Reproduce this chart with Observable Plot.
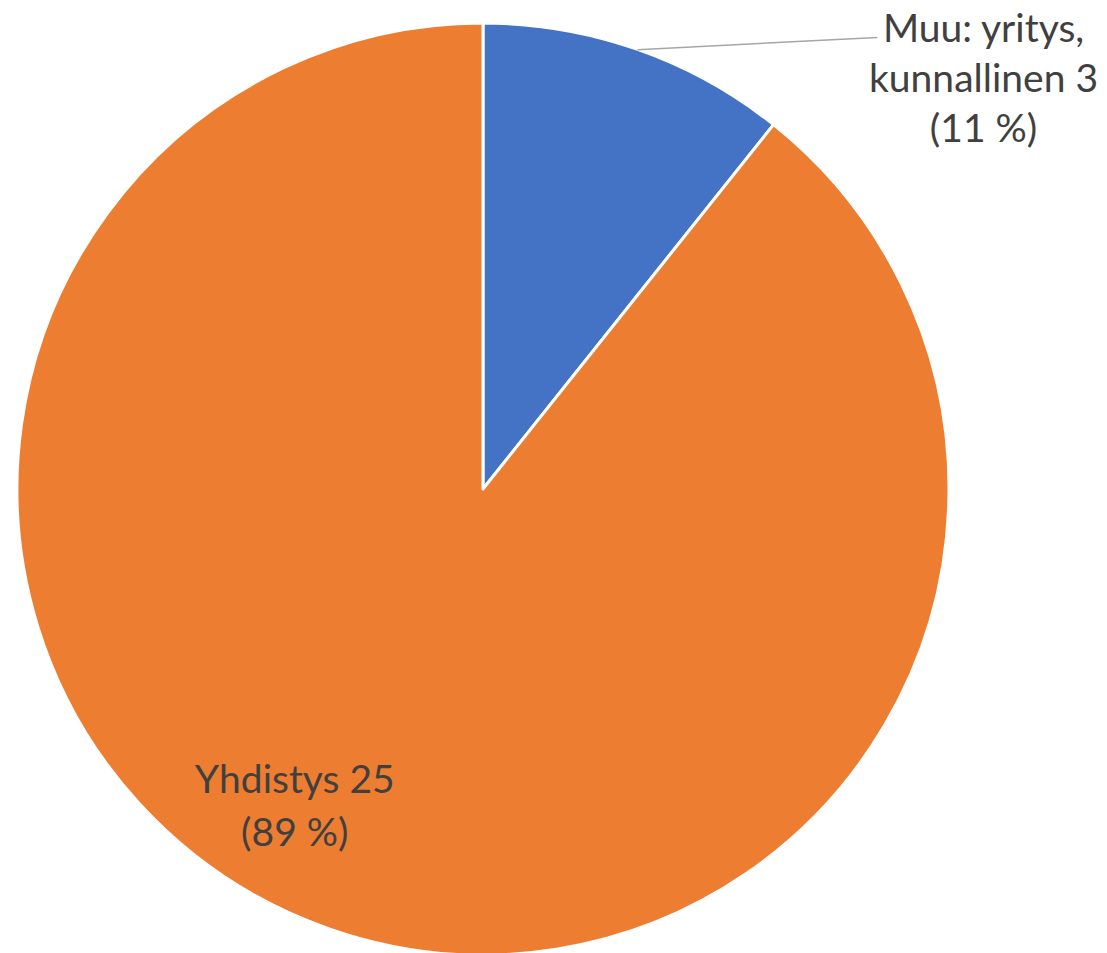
<!DOCTYPE html>
<html><head><meta charset="utf-8">
<script src="https://cdn.jsdelivr.net/npm/d3@7"></script>
<script src="https://cdn.jsdelivr.net/npm/@observablehq/plot@0.6"></script>
<style>body{margin:0;background:#fff;overflow:hidden}</style>
</head><body><div id="chart"></div>
<script>
// Data
const categories = ["Muu: yritys,\nkunnallinen", "Yhdistys"];
const values = [3, 25];
const colors = ["#4472C4", "#ED7D31"];

const total = d3.sum(values);
const data = categories.map((c, i) => ({
  category: c, value: values[i], pct: Math.round(values[i] / total * 100), color: colors[i]
}));
const arcs = d3.pie().sort(null).value(d => d.value)(data);
const mid = a => (a.startAngle + a.endAngle) / 2;
const label = a => `${a.data.category} ${a.data.value}\n(${a.data.pct} %)`;

function pieMark(index, scales) {
  const cx = scales.x(0), cy = scales.y(0), r = scales.x(1) - scales.x(0);
  const g = d3.create("svg:g").attr("transform", `translate(${cx},${cy})`);
  const arc = d3.arc().innerRadius(0).outerRadius(r);
  g.selectAll("path").data(arcs).join("path")
    .attr("d", arc)
    .attr("fill", d => d.data.color)
    .attr("stroke", "#fff").attr("stroke-width", 3).attr("stroke-linejoin", "round");
  return g.node();
}

const chart = Plot.plot({
  width: 1107, height: 953,
  margin: 0,
  x: {domain: [-1, 1], range: [17, 949], axis: null},
  y: {domain: [-1, 1], range: [955, 23], axis: null},
  style: {fontFamily: "Lato, 'Open Sans', sans-serif", background: "#fff"},
  marks: [
    pieMark,
    Plot.link([arcs[0]], {
      x1: a => Math.sin(mid(a)), y1: a => Math.cos(mid(a)),
      x2: 0.845, y2: 0.97,
      stroke: "#a6a6a6", strokeWidth: 1.5
    }),
    Plot.text([arcs[0]], {
      x: 1.073, y: 0.888, text: label,
      fontSize: 39, fill: "#404040", lineAnchor: "middle", lineHeight: 1.28, textAnchor: "middle"
    }),
    Plot.text([arcs[1]], {
      x: -0.405, y: -0.672, text: label,
      fontSize: 39, fill: "#404040", lineAnchor: "middle", lineHeight: 1.36, textAnchor: "middle"
    })
  ]
});
document.getElementById("chart").appendChild(chart);
</script>
</body></html>
